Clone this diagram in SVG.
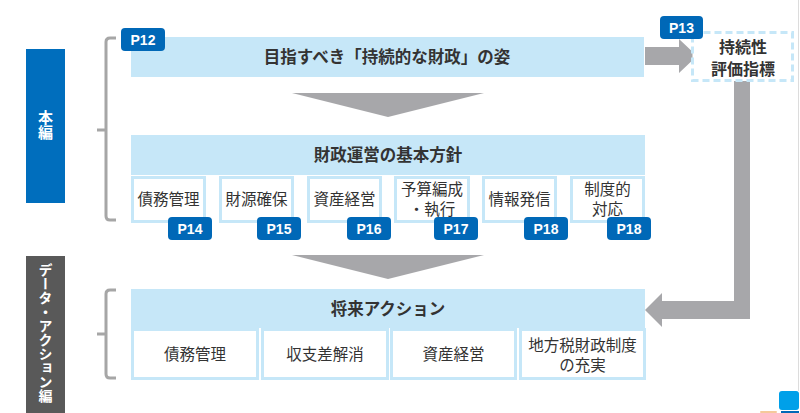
<svg xmlns="http://www.w3.org/2000/svg" width="800" height="413" viewBox="0 0 800 413">
<style>
text{font-family:"Noto Sans CJK JP","Noto Sans",sans-serif;fill:#333;}
.band{fill:#c6e7f8;}
.bt{font-size:16.5px;font-weight:bold;text-anchor:middle;}
.box{fill:#fff;stroke:#c6e7f8;stroke-width:3;}
.bx{font-size:15.5px;text-anchor:middle;}
.badge{fill:#0068b7;}
.bd{font-family:"Liberation Sans",Arial,sans-serif;font-size:14px;font-weight:bold;fill:#fff;text-anchor:middle;}
.arr{fill:#a7a7aa;}
.brk{fill:none;stroke:#a6a6a6;stroke-width:3;stroke-linejoin:round;}
.side{font-size:15px;font-weight:bold;fill:#fff;writing-mode:vertical-rl;text-orientation:upright;}
</style>
<rect x="0" y="0" width="800" height="413" fill="#fff"/>
<line x1="798.5" y1="0" x2="798.5" y2="391" stroke="#dcdcdc" stroke-width="1"/>

<g id="side-honpen">
<rect x="26" y="49" width="39" height="154" fill="#006ebd"/>
<text class="side" x="45.5" y="110">本編</text>
</g>
<g id="side-data">
<rect x="26" y="256" width="39" height="157" fill="#595959"/>
<text class="side" x="45.5" y="263" style="font-size:14px;">データ・アクション編</text>
</g>

<g id="brackets">
<path class="brk" d="M116,38 H110 Q106,38 106,42 V216 Q106,220 110,220 H116 M106,130 H97"/>
<path class="brk" d="M116,290 H110 Q106,290 106,294 V374 Q106,378 110,378 H116 M106,334 H97"/>
</g>

<g id="connectors">
<polygon class="arr" points="292,93 484,93 388,117"/>
<polygon class="arr" points="292,255 484,255 388,279"/>
<polygon class="arr" points="645,47 679,47 679,39 697,56 679,73 679,65 645,65"/>
<polygon class="arr" points="734,81 750,81 750,319 662,319 662,327 645,310 662,293 662,301 734,301"/>
</g>

<g id="goal">
<rect class="band" x="131" y="37" width="513" height="40"/>
<text class="bt" x="387" y="63">目指すべき「持続的な財政」の姿</text>
<rect class="badge" x="121" y="28" width="44" height="23" rx="4"/>
<text class="bd" x="143" y="45">P12</text>
</g>

<g id="indicator">
<rect x="692.5" y="32.5" width="100" height="48" fill="#fff" stroke="#c6e7f8" stroke-width="3" stroke-dasharray="7,4"/>
<text class="bt" x="743" y="53" style="font-size:16px;">持続性</text>
<text class="bt" x="743" y="75" style="font-size:16px;">評価指標</text>
<rect class="badge" x="660" y="16" width="43" height="23" rx="4"/>
<text class="bd" x="681.5" y="33">P13</text>
</g>

<g id="policy">
<rect class="band" x="131" y="135" width="514" height="40"/>
<text class="bt" x="388" y="161">財政運営の基本方針</text>
</g>

<g id="p-debt">
<rect class="box" x="132.5" y="177.5" width="72" height="44"/>
<text class="bx" x="168.5" y="205">債務管理</text>
<rect class="badge" x="168" y="217" width="44" height="23" rx="4"/>
<text class="bd" x="190" y="234">P14</text>
</g>
<g id="p-revenue">
<rect class="box" x="220.5" y="177.5" width="72" height="44"/>
<text class="bx" x="256.5" y="205">財源確保</text>
<rect class="badge" x="257" y="217" width="44" height="23" rx="4"/>
<text class="bd" x="279" y="234">P15</text>
</g>
<g id="p-asset">
<rect class="box" x="308.5" y="177.5" width="72" height="44"/>
<text class="bx" x="344.5" y="205">資産経営</text>
<rect class="badge" x="347" y="217" width="44" height="23" rx="4"/>
<text class="bd" x="369" y="234">P16</text>
</g>
<g id="p-budget">
<rect class="box" x="395.5" y="177.5" width="73" height="44"/>
<text class="bx" x="432" y="195">予算編成</text>
<text class="bx" x="432" y="215">・執行</text>
<rect class="badge" x="434" y="217" width="44" height="23" rx="4"/>
<text class="bd" x="456" y="234">P17</text>
</g>
<g id="p-info">
<rect class="box" x="483.5" y="177.5" width="72" height="44"/>
<text class="bx" x="519.5" y="205">情報発信</text>
<rect class="badge" x="524" y="217" width="44" height="23" rx="4"/>
<text class="bd" x="546" y="234">P18</text>
</g>
<g id="p-system">
<rect class="box" x="571.5" y="177.5" width="72" height="44"/>
<text class="bx" x="607.5" y="195">制度的</text>
<text class="bx" x="607.5" y="215">対応</text>
<rect class="badge" x="607" y="217" width="44" height="23" rx="4"/>
<text class="bd" x="629" y="234">P18</text>
</g>

<g id="action">
<rect class="band" x="131" y="289" width="514" height="39"/>
<text class="bt" x="388" y="315">将来アクション</text>
</g>
<g id="a-debt">
<rect class="box" x="132.5" y="329.5" width="125" height="49"/>
<text class="bx" x="195" y="360">債務管理</text>
</g>
<g id="a-balance">
<rect class="box" x="262.5" y="329.5" width="125" height="49"/>
<text class="bx" x="325" y="360">収支差解消</text>
</g>
<g id="a-asset">
<rect class="box" x="391.5" y="329.5" width="124" height="49"/>
<text class="bx" x="453.5" y="360">資産経営</text>
</g>
<g id="a-local">
<rect class="box" x="520.5" y="329.5" width="124" height="49"/>
<text class="bx" x="582.5" y="351">地方税財政制度</text>
<text class="bx" x="582.5" y="371">の充実</text>
</g>

<g id="corner-icon">
<rect x="779" y="391" width="20" height="19" rx="3" fill="#00a0e9"/>
<rect x="781" y="411" width="18" height="2" fill="#0068b7"/>
<rect x="760" y="411" width="17" height="2" rx="1" fill="#f5c99a"/>
</g>
</svg>
